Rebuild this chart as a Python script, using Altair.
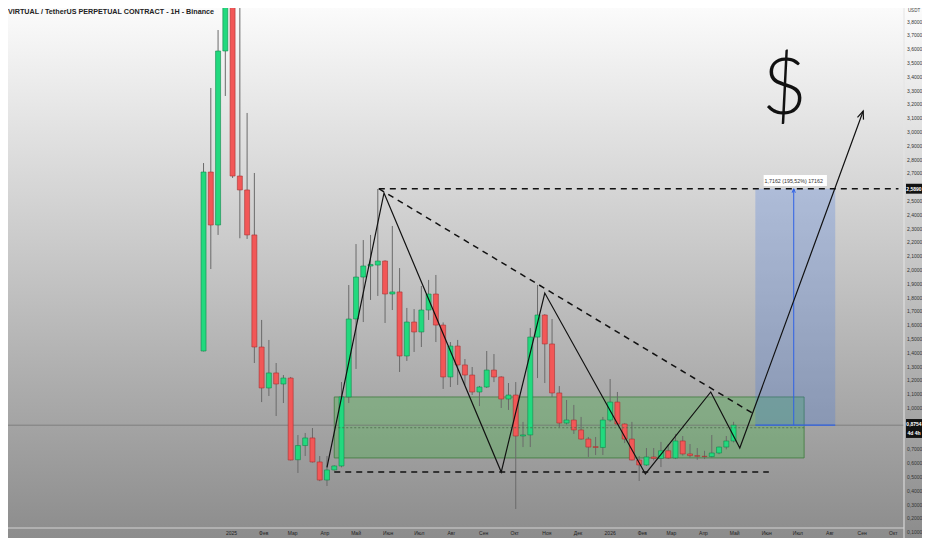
import altair as alt
import numpy as np
import pandas as pd

# weekly candles, first bar week of 2024-12-05
FIRST_WEEK = "2024-12-05"
OPEN = [1.413, 2.710, 2.326, 3.587, 4.300, 2.681, 2.580, 2.254, 1.442, 1.145,
        1.254, 1.174, 1.217, 0.625, 0.728, 0.783, 0.609, 0.478, 0.551, 0.580,
        1.080, 1.645, 1.949, 2.029, 2.036, 2.065, 1.826, 1.841, 1.377, 1.623,
        1.551, 1.710, 1.826, 1.601, 1.225, 1.449, 1.312, 1.239, 1.116, 1.152,
        1.275, 1.225, 1.065, 1.094, 0.797, 0.805, 1.514, 1.674, 1.464, 1.109,
        0.891, 0.913, 0.841, 0.775, 0.720, 0.714, 0.913, 1.043, 0.884, 0.775,
        0.623, 0.587, 0.645, 0.635, 0.690, 0.638, 0.761, 0.667, 0.655, 0.650,
        0.648, 0.674, 0.717, 0.761]
HIGH = [2.775, 3.319, 3.739, 4.400, 4.450, 4.100, 3.138, 2.703, 1.638, 1.493,
        1.326, 1.239, 1.225, 0.804, 0.819, 0.855, 0.652, 0.652, 0.585, 1.188,
        1.891, 2.188, 2.217, 2.254, 2.587, 2.070, 2.319, 2.014, 1.725, 1.717,
        1.884, 1.928, 1.964, 1.620, 1.478, 1.493, 1.355, 1.297, 1.160, 1.413,
        1.391, 1.230, 1.181, 1.188, 0.899, 1.580, 1.891, 1.680, 1.645, 1.159,
        1.058, 1.022, 0.935, 0.790, 0.790, 0.935, 1.210, 1.116, 0.890, 0.899,
        0.652, 0.710, 0.710, 0.754, 0.739, 0.812, 0.797, 0.739, 0.710, 0.690,
        0.804, 0.720, 0.797, 0.900]
LOW = [1.410, 2.007, 2.254, 3.261, 2.667, 2.230, 2.225, 1.326, 1.043, 1.087,
       0.942, 1.036, 0.620, 0.529, 0.652, 0.605, 0.470, 0.435, 0.545, 0.570,
       1.036, 1.283, 1.623, 1.783, 1.812, 1.616, 1.710, 1.261, 1.341, 1.406,
       1.442, 1.638, 1.478, 1.138, 1.152, 1.167, 1.167, 1.094, 1.014, 1.145,
       1.188, 1.000, 0.986, 0.268, 0.717, 0.717, 1.217, 1.181, 1.080, 0.862,
       0.880, 0.812, 0.770, 0.645, 0.659, 0.659, 0.899, 0.880, 0.746, 0.620,
       0.471, 0.580, 0.620, 0.572, 0.630, 0.630, 0.655, 0.640, 0.625, 0.630,
       0.640, 0.665, 0.700, 0.750]
CLOSE = [2.710, 2.326, 3.587, 4.300, 2.681, 2.580, 2.254, 1.442, 1.145, 1.254,
         1.174, 1.217, 0.623, 0.728, 0.783, 0.609, 0.478, 0.551, 0.580, 1.080,
         1.645, 1.949, 2.029, 2.040, 2.065, 1.826, 1.841, 1.377, 1.623, 1.551,
         1.710, 1.826, 1.601, 1.225, 1.449, 1.312, 1.239, 1.116, 1.152, 1.275,
         1.225, 1.065, 1.094, 0.797, 0.805, 1.514, 1.674, 1.464, 1.109, 0.891,
         0.913, 0.841, 0.775, 0.717, 0.714, 0.913, 1.043, 0.884, 0.775, 0.623,
         0.587, 0.645, 0.635, 0.690, 0.638, 0.761, 0.667, 0.655, 0.650, 0.648,
         0.674, 0.717, 0.761, 0.8754]

# drawings
ZIG_DATES = ["2025-04-03", "2025-05-28", "2025-09-18", "2025-10-30",
             "2026-02-04", "2026-04-08", "2026-05-06", "2026-09-02"]
ZIG_PRICES = [0.570, 2.558, 0.536, 1.833, 0.522, 1.116, 0.710, 3.152]

DASH_START = ["2025-05-23", "2025-05-23", "2025-04-10"]
DASH_END = ["2026-10-06", "2026-05-21", "2026-06-03"]
DASH_P1 = [2.589, 2.589, 0.536]
DASH_P2 = [2.589, 0.950, 0.536]

ZONE_DATES = ["2025-04-10", "2026-07-07"]
ZONE_PRICES = [0.638, 1.080]
ZONE_MID = 0.857

LAST_PRICE = 0.8754
TARGET = 2.589
BOX_DATES = ["2026-05-21", "2026-08-06"]
ARROW_DATE = "2026-06-27"
MEASURE_LABEL = "1,7162 (195,52%) 17162"
MEASURE_BOX = ["2026-05-29", "2026-07-29"]

TITLE = "VIRTUAL / TetherUS PERPETUAL CONTRACT - 1H - Binance"
MONTHS = ["Янв", "Фев", "Мар", "Апр", "Май", "Июн",
          "Июл", "Авг", "Сен", "Окт", "Ноя", "Дек"]
TICK_DATES = pd.date_range("2025-01-01", "2026-10-01", freq="MS")
# price labels, minus the ones hidden under the price tags
PRICE_TICKS = [round(0.1 * k, 1) for k in range(1, 39) if k not in (8, 9, 26)]

FONT = "Liberation Sans"
W, H = 896, 520

x_scale = alt.Scale(type="utc", domain=[
    alt.DateTime(year=2024, month=6, date=4, hours=7, utc=True),
    alt.DateTime(year=2026, month=10, date=6, hours=12, utc=True)])
y_scale = alt.Scale(domain=[0.1304, 3.8986], nice=False, zero=False)


def xs(field):
    return alt.X(f"{field}:T", scale=x_scale, axis=None, title=None)


def ys(field):
    return alt.Y(f"{field}:Q", scale=y_scale, axis=None, title=None)


one = pd.DataFrame({"k": [0]})

dates = pd.date_range(FIRST_WEEK, periods=len(OPEN), freq="7D").strftime("%Y-%m-%d")
candles = pd.DataFrame({"date": dates, "open": OPEN, "high": HIGH,
                        "low": LOW, "close": CLOSE})
candles["dir"] = np.where(candles["close"] >= candles["open"], "up", "down")

# background gradient, whole canvas
bg = alt.Chart(one).mark_rect(fill=alt.Gradient(
    gradient="linear", x1=0, x2=0, y1=0, y2=1,
    stops=[alt.GradientStop(color="#fbfbfb", offset=0),
           alt.GradientStop(color="#c4c4c4", offset=0.5),
           alt.GradientStop(color="#8c8c8c", offset=1)])).encode(
    x=alt.value(0), x2=alt.value(W + 18), y=alt.value(0), y2=alt.value(H + 10))

zone_df = pd.DataFrame({"d1": [ZONE_DATES[0]], "d2": [ZONE_DATES[1]],
                        "p1": [ZONE_PRICES[0]], "p2": [ZONE_PRICES[1]], "mid": [ZONE_MID]})
zone = alt.Chart(zone_df).mark_rect(
    fill="#4caf50", fillOpacity=0.38, stroke="#3f7a3d", strokeWidth=1, strokeOpacity=0.8
).encode(x=xs("d1"), x2="d2", y=ys("p1"), y2="p2")
zone_mid = alt.Chart(zone_df).mark_rule(
    color="#4d6b4a", strokeWidth=0.8, strokeDash=[2, 2]
).encode(x=xs("d1"), x2="d2", y=ys("mid"))

box_df = pd.DataFrame({"d1": [BOX_DATES[0]], "d2": [BOX_DATES[1]], "am": [ARROW_DATE],
                       "p1": [LAST_PRICE], "p2": [TARGET]})
box = alt.Chart(box_df).mark_rect(fill="#3d74e0", fillOpacity=0.26).encode(
    x=xs("d1"), x2="d2", y=ys("p1"), y2="p2")
box_base = alt.Chart(box_df).mark_rule(color="#2f62e6", strokeWidth=1.2).encode(
    x=xs("d1"), x2="d2", y=ys("p1"))
box_arrow = alt.Chart(box_df).mark_rule(color="#2f62e6", strokeWidth=1).encode(
    x=xs("am"), y=ys("p1"), y2="p2")
box_head = alt.Chart(box_df).mark_point(
    shape="M-0.8,2L0,0L0.8,2", filled=False, size=16, color="#2f62e6", strokeWidth=1, opacity=1
).encode(x=xs("am"), y=ys("p2"))

last_df = pd.DataFrame({"p": [LAST_PRICE]})
last_line = alt.Chart(last_df).mark_rule(color="#6f6f6f", strokeWidth=0.7).encode(
    x=alt.value(0), x2=alt.value(W), y=ys("p"))

wicks = alt.Chart(candles).mark_rule(color="#6a6a6a", strokeWidth=1, clip=True).encode(
    x=xs("date"), y=ys("low"), y2="high")
bodies = alt.Chart(candles).mark_bar(width=5, strokeWidth=0.6, clip=True).encode(
    x=xs("date"), y=ys("open"), y2="close",
    fill=alt.Fill("dir:N", scale=alt.Scale(domain=["up", "down"], range=["#22d97e", "#f25757"]), legend=None),
    stroke=alt.Stroke("dir:N", scale=alt.Scale(domain=["up", "down"], range=["#138a4c", "#a83232"]), legend=None),
)

dash_df = pd.DataFrame({"d1": DASH_START, "d2": DASH_END, "p1": DASH_P1, "p2": DASH_P2})
dashes = alt.Chart(dash_df).mark_rule(color="#111111", strokeWidth=1.5, strokeDash=[6, 5]).encode(
    x=xs("d1"), x2="d2", y=ys("p1"), y2="p2")

zig_df = pd.DataFrame({"d": ZIG_DATES, "p": ZIG_PRICES, "i": range(len(ZIG_DATES))})
zig = alt.Chart(zig_df).mark_line(color="#111111", strokeWidth=1.2).encode(
    x=xs("d"), y=ys("p"), order="i:Q")
zig_head = alt.Chart(zig_df.tail(1)).mark_point(
    shape="M-0.8,2L0,0L0.8,2", filled=False, size=64, color="#111111", strokeWidth=1.2,
    angle=20, opacity=1).encode(x=xs("d"), y=ys("p"))

# measurement label
ml_df = pd.DataFrame({"d1": [MEASURE_BOX[0]], "d2": [MEASURE_BOX[1]], "am": [ARROW_DATE],
                      "p1": [2.609], "p2": [2.688], "pm": [2.648], "t": [MEASURE_LABEL]})
ml_box = alt.Chart(ml_df).mark_rect(fill="white").encode(
    x=xs("d1"), x2="d2", y=ys("p1"), y2="p2")
ml_text = alt.Chart(ml_df).mark_text(fontSize=5.3, color="#333333", font=FONT).encode(
    x=xs("am"), y=ys("pm"), text="t:N")

dollar_df = pd.DataFrame({"d": ["2026-06-18"], "p": [3.30], "t": ["$"]})
dollar = alt.Chart(dollar_df).mark_text(
    fontSize=78, font="Lato", fontWeight=300, color="#111111", baseline="middle").encode(
    x=xs("d"), y=ys("p"), text="t:N")

# axes: separator lines and tick labels
edges = alt.Chart(one).mark_rule(color="#e4e4e4", strokeWidth=1).encode(
    x=alt.value(W), y=alt.value(0), y2=alt.value(H + 10))
edge_b = alt.Chart(one).mark_rule(color="#d2d2d2", strokeWidth=1).encode(
    x=alt.value(0), x2=alt.value(W), y=alt.value(H))

ylab_df = pd.DataFrame({"p": PRICE_TICKS,
                        "t": [f"{v:.4f}".replace(".", ",") for v in PRICE_TICKS]})
ylabels = alt.Chart(ylab_df).mark_text(
    fontSize=5, font=FONT, color="#333333", align="left", baseline="middle").encode(
    x=alt.value(W + 3), y=ys("p"), text="t:N")

xlab_df = pd.DataFrame({"d": TICK_DATES.strftime("%Y-%m-%d"),
                        "t": [str(d.year) if d.month == 1 else MONTHS[d.month - 1] for d in TICK_DATES]})
xlabels = alt.Chart(xlab_df).mark_text(
    fontSize=5, font=FONT, color="#1e1e1e", align="center", baseline="middle").encode(
    x=xs("d"), y=alt.value(H + 5), text="t:N")

# price tags on the right axis
tag_df = pd.DataFrame({"p1": [2.553, 0.783], "p2": [2.625, 0.920]})
tags = alt.Chart(tag_df).mark_rect(fill="#111111").encode(
    x=alt.value(W + 2), x2=alt.value(W + 18), y=ys("p1"), y2="p2")
tag_txt_df = pd.DataFrame({"p": [2.589, 0.887, 0.822], "t": ["2,5890", "0,8754", "4d 4h"]})
tag_txt = alt.Chart(tag_txt_df).mark_text(
    fontSize=5, color="white", font=FONT, fontWeight="bold").encode(
    x=alt.value(W + 10), y=ys("p"), text="t:N")

title = alt.Chart(one).mark_text(
    text=TITLE, fontSize=7.2, font=FONT, fontWeight="bold", color="#222222",
    align="left", baseline="top").encode(x=alt.value(0), y=alt.value(0))
usdt = alt.Chart(one).mark_text(
    text="USDT", fontSize=4.5, font=FONT, color="#444444",
    align="center", baseline="top").encode(x=alt.value(W + 10), y=alt.value(0))

chart = alt.layer(
    bg, zone, box, last_line, wicks, bodies, zone_mid, box_base, box_arrow, box_head,
    dashes, zig, zig_head, ml_box, ml_text, dollar, edges, edge_b, ylabels, xlabels,
    tags, tag_txt, title, usdt
).properties(
    width=W, height=H,
    autosize=alt.AutoSizeParams(type="none"),
    padding={"left": 0, "top": 0, "right": 18, "bottom": 10},
    background="#c4c4c4",
).configure_view(stroke=None)

chart.save("out.html", embed_options={"renderer": "svg", "actions": False})
